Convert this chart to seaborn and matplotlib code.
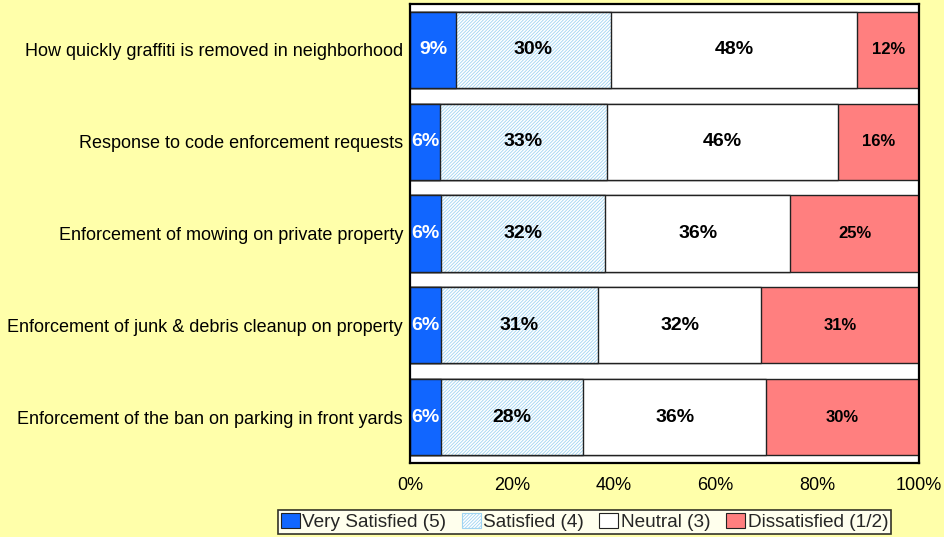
import pandas as pd
import seaborn as sns
import matplotlib.pyplot as plt
from matplotlib.patches import Patch

# survey items, top to bottom
items = [
    "How quickly graffiti is removed in neighborhood",
    "Response to code enforcement requests",
    "Enforcement of mowing on private property",
    "Enforcement of junk & debris cleanup on property",
    "Enforcement of the ban on parking in front yards",
]
very_satisfied = [9, 6, 6, 6, 6]
satisfied = [30, 33, 32, 31, 28]
neutral = [48, 46, 36, 32, 36]
dissatisfied = [12, 16, 25, 31, 30]

series_names = ["Very Satisfied (5)", "Satisfied (4)", "Neutral (3)", "Dissatisfied (1/2)"]

BG = "#FFFFAA"
BLUE = "#1166FF"
HATCH_BLUE = "#9FD4F2"
RED = "#FF7F7F"
EDGE = "#222222"


def build_frame():
    df = pd.DataFrame({
        "item": items,
        "vs": very_satisfied,
        "s": satisfied,
        "n": neutral,
        "d": dissatisfied,
    })
    # 100% stacked, like the original chart
    total = df[["vs", "s", "n", "d"]].sum(axis=1)
    for c in ["vs", "s", "n", "d"]:
        df[c + "_p"] = df[c] / total * 100
    df["c1"] = df["vs_p"]
    df["c2"] = df["c1"] + df["s_p"]
    df["c3"] = df["c2"] + df["n_p"]
    df["c4"] = df["c3"] + df["d_p"]
    return df


def main():
    sns.set_style("white")
    plt.rcParams["font.family"] = ["Liberation Sans", "DejaVu Sans"]
    plt.rcParams["hatch.linewidth"] = 0.6

    df = build_frame()

    fig = plt.figure(figsize=(9.45, 5.37), dpi=100, facecolor=BG)
    ax = fig.add_axes([0.4339, 0.1378, 0.5386, 0.8548])
    ax.set_facecolor("white")

    w = 0.83
    common = dict(data=df, y="item", orient="h", width=w, saturation=1, ax=ax)
    # draw cumulative bars back to front so they look stacked
    sns.barplot(x="c4", color=RED, edgecolor=EDGE, linewidth=1, **common)
    sns.barplot(x="c3", color="white", edgecolor=EDGE, linewidth=1, **common)
    sns.barplot(x="c2", color="white", edgecolor=HATCH_BLUE, linewidth=0,
                hatch="//////////", **common)
    sns.barplot(x="c2", fill=False, edgecolor=EDGE, linewidth=1, **common)
    sns.barplot(x="c1", color=BLUE, edgecolor=EDGE, linewidth=1, **common)

    # value labels
    for i, row in df.iterrows():
        starts = [0, row["c1"], row["c2"], row["c3"]]
        ends = [row["c1"], row["c2"], row["c3"], row["c4"]]
        vals = [row["vs"], row["s"], row["n"], row["d"]]
        for k in range(4):
            mid = (starts[k] + ends[k]) / 2
            ax.text(mid, i, f"{vals[k]}%", ha="center", va="center",
                    fontweight="bold",
                    fontsize=12 if k == 3 else 14,
                    color="white" if k == 0 else "black")

    ax.set_xlim(0, 100)
    ax.set_ylim(4.5, -0.5)
    ax.set_xticks([0, 20, 40, 60, 80, 100])
    ax.set_xticklabels([f"{t}%" for t in range(0, 101, 20)], fontsize=13)
    ax.tick_params(axis="x", direction="in", length=7, width=1, color="#555555",
                   pad=10, labelcolor="black")
    ax.tick_params(axis="y", length=0, pad=5, labelsize=13, labelcolor="black")
    ax.set_xlabel("")
    ax.set_ylabel("")
    for s in ax.spines.values():
        s.set_color("black")
        s.set_linewidth(1.6)

    handles = [
        Patch(facecolor=BLUE, edgecolor=EDGE, linewidth=0.8),
        Patch(facecolor="white", edgecolor=HATCH_BLUE, hatch="//////////", linewidth=0.8),
        Patch(facecolor="white", edgecolor=EDGE, linewidth=0.8),
        Patch(facecolor=RED, edgecolor=EDGE, linewidth=0.8),
    ]
    leg = fig.legend(handles, series_names, loc="center",
                     bbox_to_anchor=(0.6185, 0.0275), ncol=4, fontsize=13.7,
                     frameon=True, fancybox=False, edgecolor="black",
                     handlelength=1.0, handleheight=0.8, handletextpad=0.15,
                     columnspacing=0.8, borderpad=0.15, borderaxespad=0)
    leg.get_frame().set_linewidth(1.2)
    leg.get_frame().set_facecolor("white")

    fig.savefig("out.png", dpi=100, facecolor=BG)


if __name__ == "__main__":
    main()
